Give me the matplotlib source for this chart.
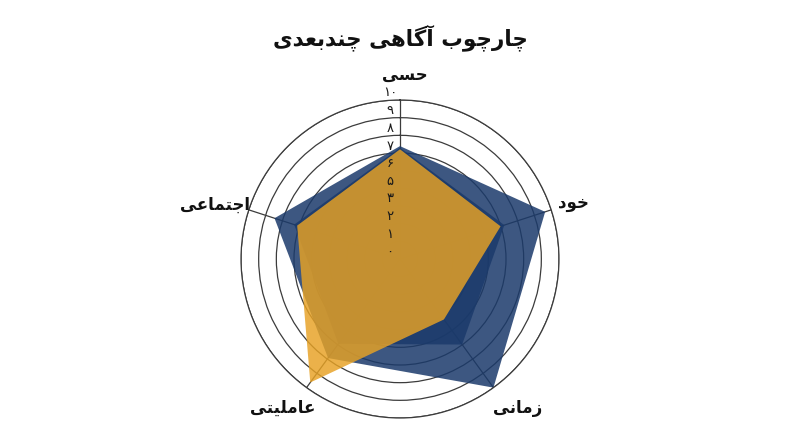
import numpy as np
import matplotlib
matplotlib.use("Agg")
import matplotlib.pyplot as plt
from matplotlib.transforms import offset_copy

# ---------------- data ----------------
categories = ['حسی', 'خود', 'زمانی', 'عاملیتی', 'اجتماعی']
series_outer = [7.1, 9.6, 10.0, 7.7, 8.3]
series_inner = [7.0, 6.9, 6.65, 6.6, 7.0]
series_gold = [6.9, 6.65, 4.7, 9.6, 6.8]
tick_labels = ['۰', '۱', '۲', '۳', '۵', '۶', '۷', '۸', '۹', '۱۰']
title_text = 'چارچوب آگاهی چندبعدی'

# ---------------- minimal Arabic/Persian shaping ----------------
FORMS = {
    'ا': ('\uFE8D', '\uFE8E', None, None),
    'آ': ('\uFE81', '\uFE82', None, None),
    'ب': ('\uFE8F', '\uFE90', '\uFE91', '\uFE92'),
    'ت': ('\uFE95', '\uFE96', '\uFE97', '\uFE98'),
    'ج': ('\uFE9D', '\uFE9E', '\uFE9F', '\uFEA0'),
    'ح': ('\uFEA1', '\uFEA2', '\uFEA3', '\uFEA4'),
    'خ': ('\uFEA5', '\uFEA6', '\uFEA7', '\uFEA8'),
    'د': ('\uFEA9', '\uFEAA', None, None),
    'ر': ('\uFEAD', '\uFEAE', None, None),
    'ز': ('\uFEAF', '\uFEB0', None, None),
    'س': ('\uFEB1', '\uFEB2', '\uFEB3', '\uFEB4'),
    'ع': ('\uFEC9', '\uFECA', '\uFECB', '\uFECC'),
    'ل': ('\uFEDD', '\uFEDE', '\uFEDF', '\uFEE0'),
    'م': ('\uFEE1', '\uFEE2', '\uFEE3', '\uFEE4'),
    'ن': ('\uFEE5', '\uFEE6', '\uFEE7', '\uFEE8'),
    'ه': ('\uFEE9', '\uFEEA', '\uFEEB', '\uFEEC'),
    'و': ('\uFEED', '\uFEEE', None, None),
    'پ': ('\uFB56', '\uFB57', '\uFB58', '\uFB59'),
    'چ': ('\uFB7A', '\uFB7B', '\uFB7C', '\uFB7D'),
    'گ': ('\uFB92', '\uFB93', '\uFB94', '\uFB95'),
    'ی': ('\uFBFC', '\uFBFD', '\uFBFE', '\uFBFF'),
}


def dual(c):
    return c in FORMS and FORMS[c][2] is not None


def shape(text):
    out = []
    n = len(text)
    for i, c in enumerate(text):
        if c not in FORMS:
            out.append(c)
            continue
        prev = text[i - 1] if i > 0 else ''
        nxt = text[i + 1] if i < n - 1 else ''
        jp = dual(prev)
        jn = dual(c) and nxt in FORMS
        iso, fin, ini, med = FORMS[c]
        if jp and jn:
            out.append(med)
        elif jp:
            out.append(fin)
        elif jn:
            out.append(ini)
        else:
            out.append(iso)
    return ''.join(out)[::-1]


plt.rcParams['font.family'] = ['DejaVu Sans']

# ---------------- figure ----------------
W, H = 800, 447
fig = plt.figure(figsize=(W / 100, H / 100), dpi=100)
fig.patch.set_facecolor('white')

cx, cy, R = 400, 259, 159
ax = fig.add_axes([(cx - R) / W, (H - cy - R) / H, 2 * R / W, 2 * R / H],
                  projection='polar')
ax.set_theta_offset(np.pi / 2)
ax.set_theta_direction(-1)
ax.set_ylim(0, 10)
ax.set_facecolor('none')

n = len(categories)
angles = np.arange(n) * 2 * np.pi / n
rings = np.linspace(0, 10, len(tick_labels))

grid_col = '#3c3c3c'
ax.set_xticks(angles)
ax.set_xticklabels([])
ax.set_yticks(rings[1:])
ax.set_yticklabels([])
ax.xaxis.grid(True, color=grid_col, linewidth=0.9)
ax.yaxis.grid(True, color=grid_col, linewidth=0.9)
ax.spines['polar'].set_color(grid_col)
ax.spines['polar'].set_linewidth(0.9)
ax.tick_params(length=0)
ax.set_axisbelow(True)


def closed(v):
    v = list(v)
    return np.r_[angles, angles[0]], np.r_[v, v[0]]


navy = '#1b3a6b'
gold = '#e7a225'
for vals in (series_outer, series_inner):
    t, r = closed(vals)
    ax.fill(t, r, color=navy, alpha=0.85, lw=0, zorder=2)
t, r = closed(series_gold)
ax.fill(t, r, color=gold, alpha=0.83, lw=0, zorder=3)

# radial tick labels (along the top axis, slightly left and above each ring)
tr = offset_copy(ax.transData, fig=fig, x=-10, y=7, units='dots')
for rv, lab in zip(rings, tick_labels):
    ax.text(0, rv, lab, transform=tr, ha='center', va='center',
            fontsize=9.5, color='#1a1a1a', zorder=5)

# category labels, offset in pixels from the end of each spoke
label_offsets = [(5, 25), (22, 7), (24, -20), (-24, -20), (-34, 5)]
for a, lab, (dx, dy) in zip(angles, categories, label_offsets):
    t_off = offset_copy(ax.transData, fig=fig, x=dx, y=dy, units='dots')
    ax.text(a, 10, shape(lab), transform=t_off, ha='center', va='center',
            fontsize=12, fontweight='bold', color='#111111', zorder=5,
            clip_on=False)

fig.text(0.5, 1 - 38 / H, shape(title_text), ha='center', va='center',
         fontsize=15.5, fontweight='bold', color='#111111')

fig.savefig('out.png', dpi=100, facecolor='white')
